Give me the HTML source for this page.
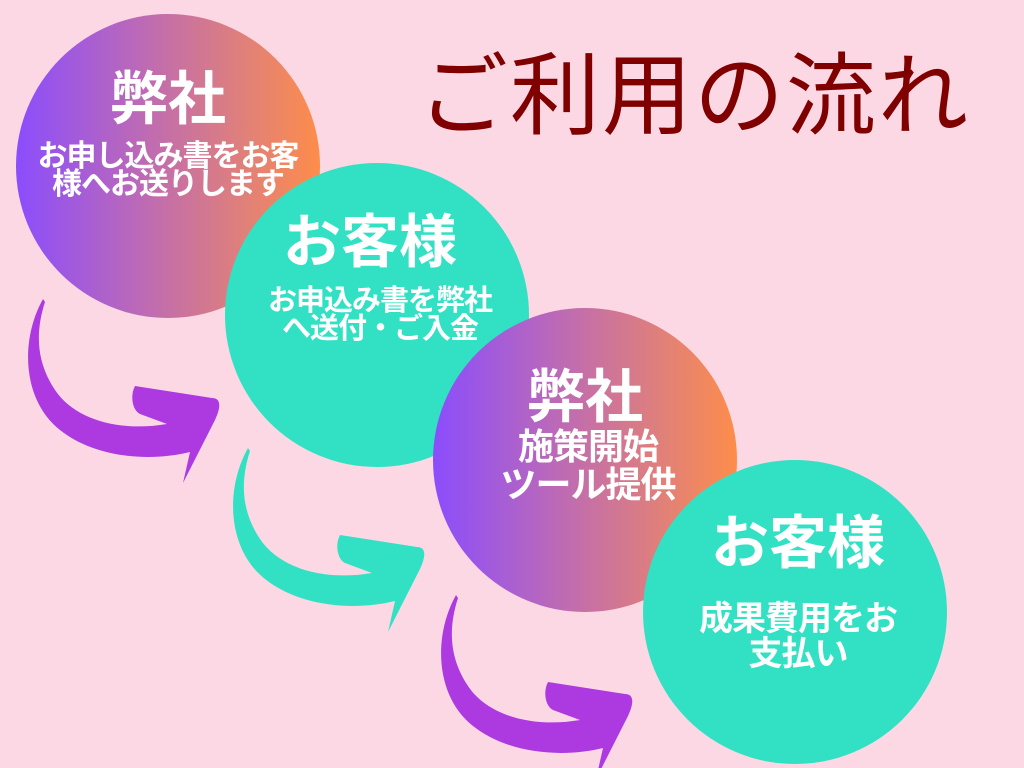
<!DOCTYPE html>
<html><head><meta charset="utf-8"><style>
html,body{margin:0;padding:0}
body{width:1024px;height:768px;background:#fcd8e4;position:relative;overflow:hidden;font-family:"Liberation Sans","Noto Sans CJK JP",sans-serif}
.c{position:absolute;width:304px;height:304px;border-radius:50%}
.g{background:linear-gradient(90deg,#8b4dfd,#bb69b8 40%,#e0807a 75%,#fd8d4a)}
.t{background:#32e1c4}
.x{position:absolute;color:#fff;font-weight:bold;text-align:center;white-space:nowrap;transform:translateX(-50%)}
.h{font-size:58px;line-height:60px}
.s{font-size:30px;line-height:28px;letter-spacing:-1px}
svg{position:absolute;left:0;top:0}
</style></head><body>
<div style="position:absolute;left:418px;top:42px;font-size:90px;color:#800000;line-height:110px;letter-spacing:2px">ご利用の流れ</div>

<div class="c g" style="left:16px;top:14px"></div>
<div class="x h" style="left:168px;top:70px">弊社</div>
<div class="x s" style="left:168px;top:143px">お申し込み書をお客<br>様へお送りします</div>

<div class="c t" style="left:225px;top:163px"></div>
<div class="x h" style="left:370px;top:213px">お客様</div>
<div class="x s" style="left:380px;top:287px;font-size:29px">お申込み書を弊社<br>へ送付・ご入金</div>

<div class="c g" style="left:433px;top:308px"></div>
<div class="x h" style="left:585px;top:368px">弊社</div>
<div class="x" style="left:588px;top:428px;font-size:36px;line-height:38px;letter-spacing:-1px">施策開始<br>ツール提供</div>

<div class="c t" style="left:643px;top:460px"></div>
<div class="x h" style="left:798px;top:514px">お客様</div>
<div class="x" style="left:798px;top:602px;font-size:34px;line-height:35px;letter-spacing:-1px">成果費用をお<br>支払い</div>

<svg width="1024" height="768">
<defs><path id="a" d="M43,299 C20,340 22,400 60,430 C95,458 150,462 190,452 L183,483 L215,420 C222,405 220,398 212,398 L135,386 C130,395 132,410 140,414 L167,424 C120,432 75,420 55,390 C35,360 36,330 45,302 Z"/></defs>
<use href="#a" fill="#ad3ae0"/>
<use href="#a" fill="#32e1c4" transform="translate(205,149)"/>
<use href="#a" fill="#ad3ae0" transform="translate(413,296)"/>
</svg>
</body></html>
